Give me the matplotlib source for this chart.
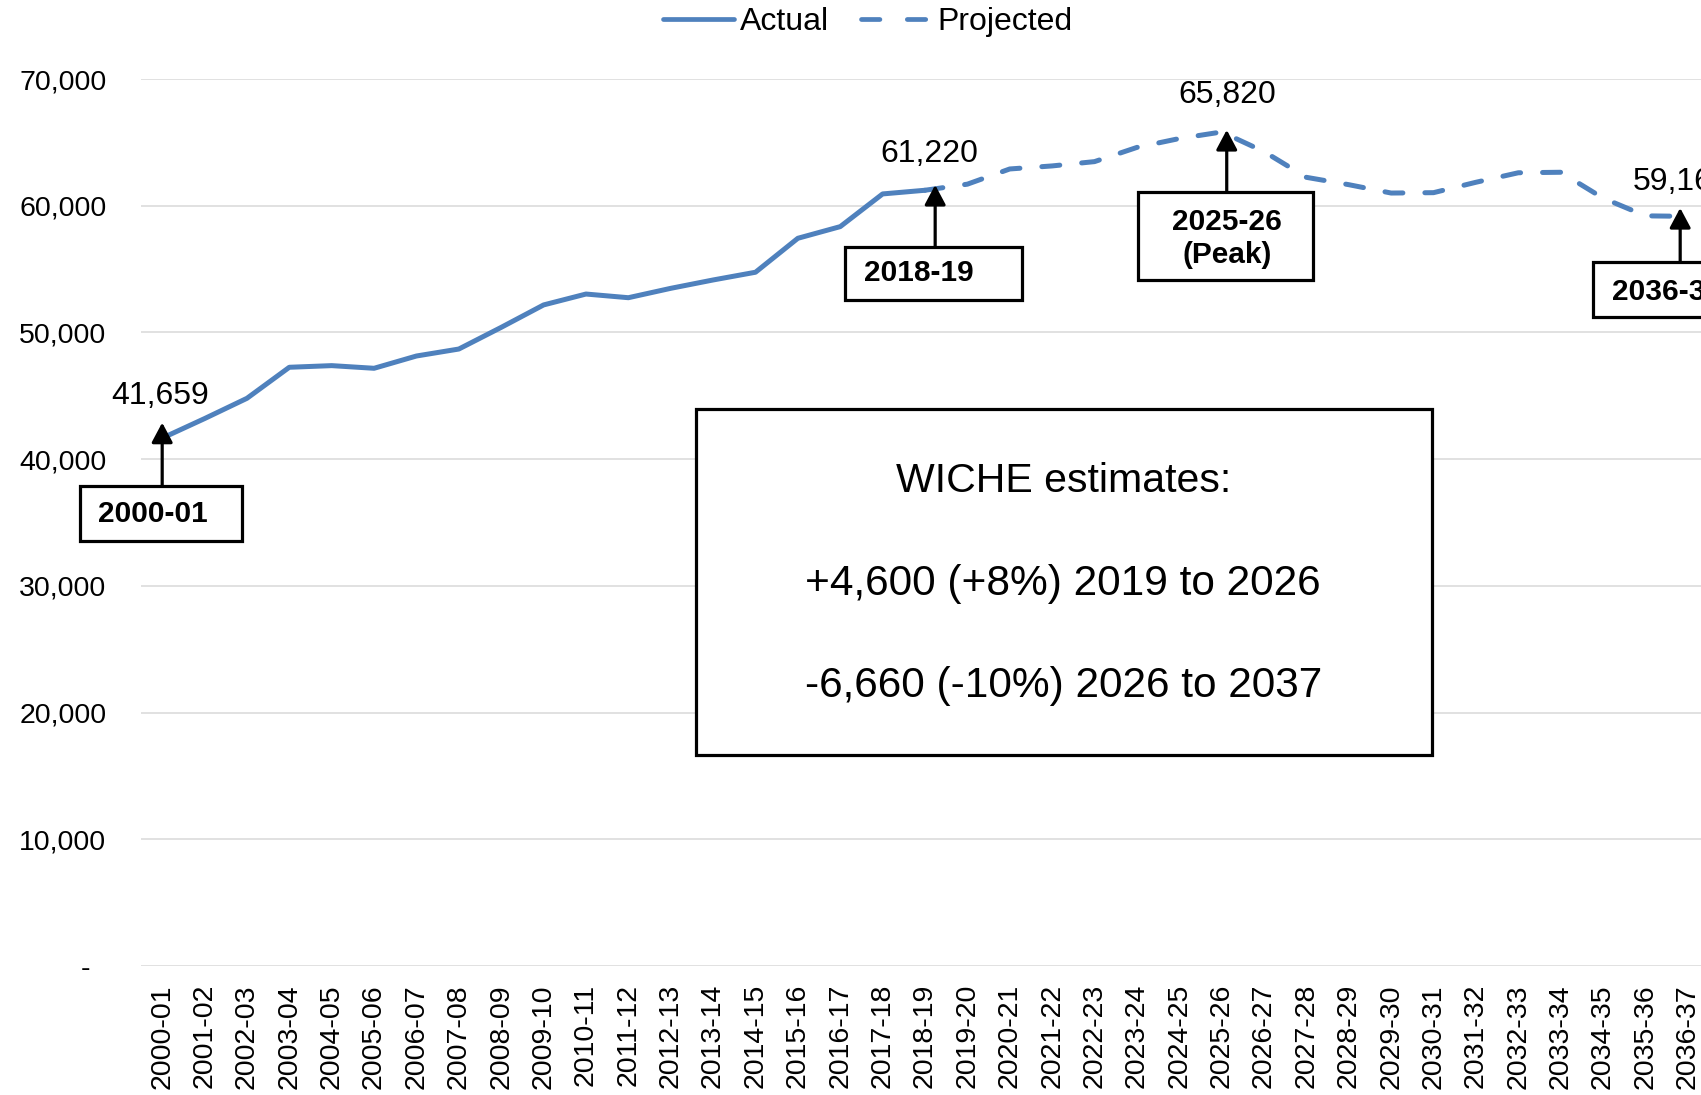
import matplotlib
matplotlib.use('Agg')
import matplotlib.pyplot as plt
from matplotlib.patches import Rectangle
from matplotlib.lines import Line2D
from matplotlib.ticker import FuncFormatter, MultipleLocator

plt.rcParams['font.family'] = ['Liberation Sans', 'DejaVu Sans']

# Data
years = ['2000-01', '2001-02', '2002-03', '2003-04', '2004-05', '2005-06',
         '2006-07', '2007-08', '2008-09', '2009-10', '2010-11', '2011-12',
         '2012-13', '2013-14', '2014-15', '2015-16', '2016-17', '2017-18',
         '2018-19', '2019-20', '2020-21', '2021-22', '2022-23', '2023-24',
         '2024-25', '2025-26', '2026-27', '2027-28', '2028-29', '2029-30',
         '2030-31', '2031-32', '2032-33', '2033-34', '2034-35', '2035-36',
         '2036-37']

# 2000-01 .. 2018-19
actual = [41659, 43200, 44800, 47250, 47380, 47170, 48140, 48690, 50400,
          52170, 53030, 52740, 53480, 54140, 54750, 57430, 58350, 60930,
          61220]

# 2018-19 .. 2036-37 (starts on the last actual year)
projected = [61220, 61700, 62900, 63140, 63480, 64600, 65300, 65820, 64270,
             62240, 61660, 61000, 61030, 61850, 62600, 62640, 60600, 59200,
             59160]

blue = '#4F81BD'
lw = 3.6

fig = plt.figure(figsize=(17.01, 10.95), dpi=100)
ax = fig.add_axes([141 / 1701, 129 / 1095, 1568 / 1701, 887 / 1095])

x_act = list(range(len(actual)))
x_proj = list(range(len(actual) - 1, len(actual) - 1 + len(projected)))

ax.plot(x_act, actual, color=blue, lw=lw, solid_joinstyle='round',
        solid_capstyle='round', zorder=3)
ax.plot(x_proj, projected, color=blue, lw=lw, linestyle=(0, (3.6, 4.4)),
        dash_capstyle='round', zorder=3)

ax.set_xlim(-0.5, len(years) - 0.5)
ax.set_ylim(0, 70000)
ax.yaxis.set_major_locator(MultipleLocator(10000))
ax.yaxis.set_major_formatter(FuncFormatter(
    lambda v, p: f'{v:,.0f}' if v else '-  '))
ax.set_xticks(range(len(years)))
ax.set_xticklabels(years, rotation=90)
ax.tick_params(axis='both', length=0, labelsize=20.5)
ax.tick_params(axis='y', pad=25)
ax.tick_params(axis='x', pad=13)
ax.grid(axis='y', color='#D9D9D9', lw=1.1)
ax.set_axisbelow(True)
for s in ax.spines.values():
    s.set_visible(False)

handles = [Line2D([], [], color=blue, lw=3.4, solid_capstyle='round'),
           Line2D([], [], color=blue, lw=3.4, linestyle=(0, (3.9, 5.8)),
                  dash_capstyle='round')]
fig.legend(handles, ['Actual', 'Projected'], loc='center',
           bbox_to_anchor=(868 / 1701, 1 - 22 / 1095), ncol=2, frameon=False,
           fontsize=23, handlelength=2.2, handletextpad=0.2,
           columnspacing=1.0, borderpad=0)


def box(x0, x1, y0, y1):
    ax.add_patch(Rectangle((x0, y0), x1 - x0, y1 - y0, facecolor='white',
                           edgecolor='black', lw=2.3, zorder=5,
                           clip_on=False))


def arrow(x, y_from, y_to):
    ax.annotate('', xy=(x, y_to), xytext=(x, y_from), zorder=6,
                annotation_clip=False,
                arrowprops=dict(arrowstyle='-|>,head_length=0.6,head_width=0.32',
                                color='black', lw=2.3, shrinkA=0, shrinkB=0,
                                mutation_scale=20))


peak_i = projected.index(max(projected)) + len(actual) - 1
last_i = len(years) - 1

# value labels
ax.text(-0.04, 44980, f'{actual[0]:,}', ha='center', va='center', fontsize=23)
ax.text(18.11, 64080, f'{actual[-1]:,}', ha='center', va='center', fontsize=23)
ax.text(25.13, 68700, f'{max(projected):,}', ha='center', va='center',
        fontsize=23)
ax.text(35.86, 61900, f'{projected[-1]:,}', ha='center', va='center',
        fontsize=23, clip_on=False)

# 2000-01
arrow(0.0, 37880, 42880)
box(-1.93, 1.89, 33540, 37880)
ax.text(-0.21, 35670, years[0], ha='center', va='center', fontsize=21.5,
        fontweight='bold', zorder=7)

# 2018-19
arrow(18.24, 56770, 61640)
box(16.12, 20.29, 52560, 56770)
ax.text(17.86, 54690, years[len(actual) - 1], ha='center', va='center',
        fontsize=21.5, fontweight='bold', zorder=7)

# 2025-26 peak
arrow(25.12, 61110, 65980)
box(23.03, 27.16, 54140, 61110)
ax.text(25.12, 57420, years[peak_i] + '\n(Peak)', ha='center', va='center',
        fontsize=21.5, fontweight='bold', linespacing=1.2, zorder=7)

# 2036-37
arrow(35.82, 55580, 59820)
box(33.77, 37.9, 51240, 55580)
ax.text(35.5, 53210, years[last_i], ha='center', va='center', fontsize=21.5,
        fontweight='bold', zorder=7, clip_on=False)

# WICHE summary box
box(12.59, 29.97, 16650, 43960)
ax.text(21.26, 38310, 'WICHE estimates:', ha='center', va='center',
        fontsize=29.5, zorder=7)
ax.text(21.26, 30180, '+4,600 (+8%) 2019 to 2026', ha='center', va='center',
        fontsize=30.5, zorder=7)
ax.text(21.26, 22130, '-6,660 (-10%) 2026 to 2037', ha='center', va='center',
        fontsize=30.5, zorder=7)

fig.savefig('out.png', dpi=100)
